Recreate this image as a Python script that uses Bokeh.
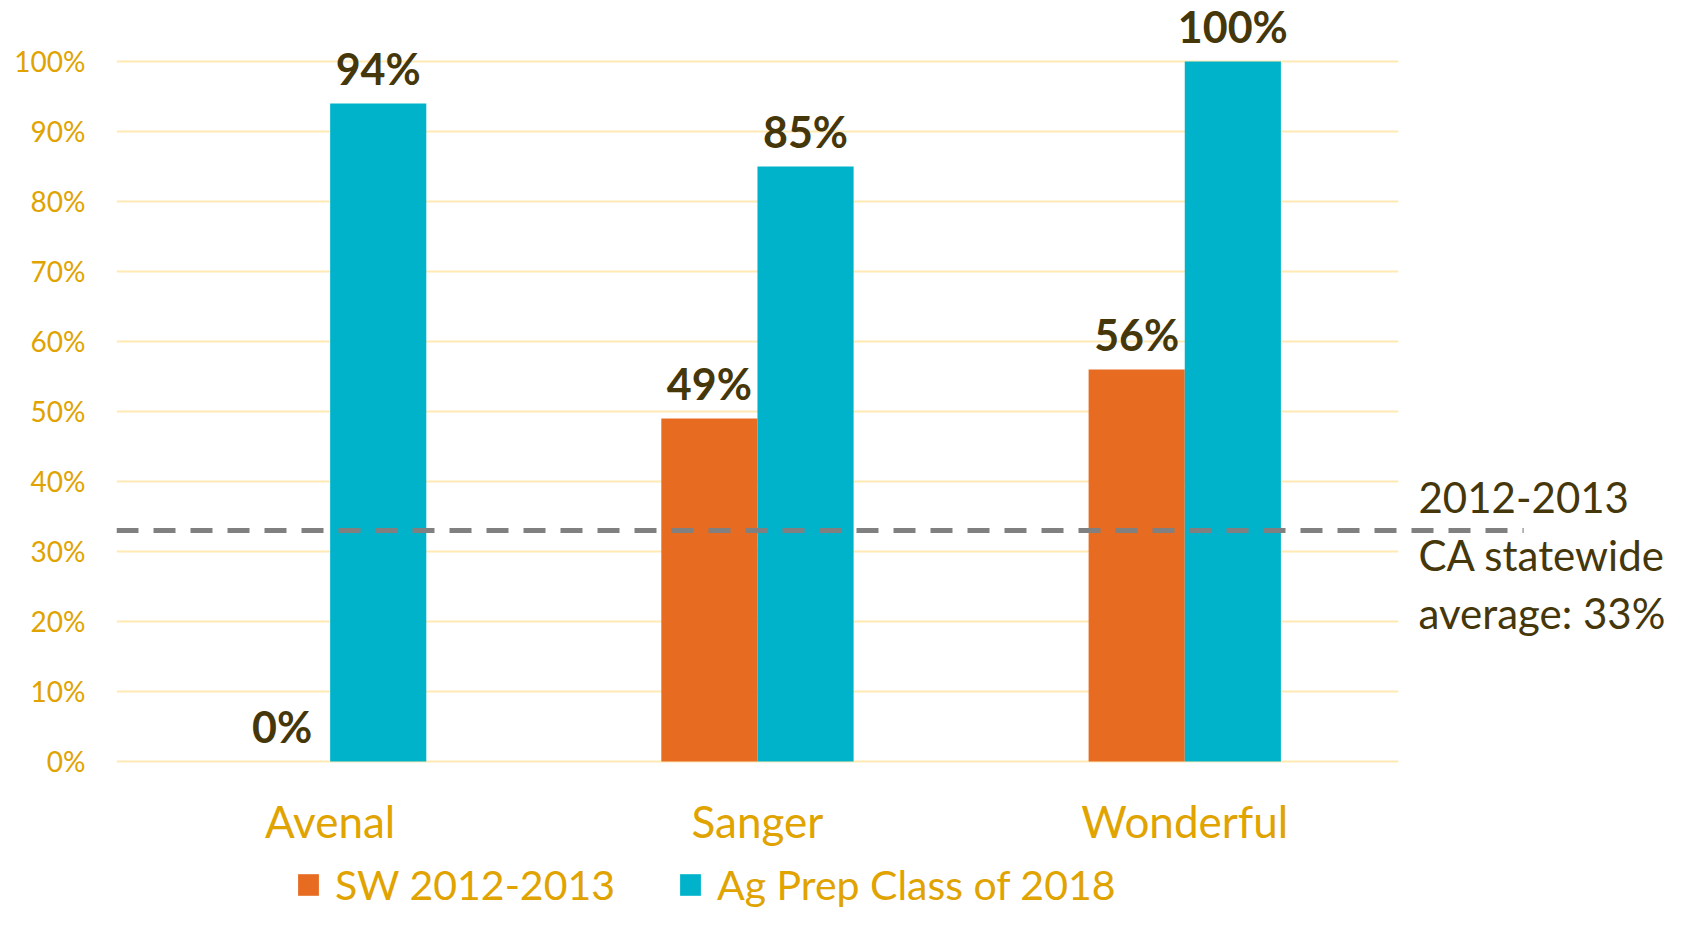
from bokeh.plotting import figure
from bokeh.models import Range1d, FixedTicker, Legend, LegendItem, ColumnDataSource
from bokeh.core.properties import value
from bokeh.embed import file_html
from bokeh.resources import INLINE

categories = ["Avenal", "Sanger", "Wonderful"]
sw_2012_2013 = [0.00, 0.49, 0.56]
ag_prep_2018 = [0.94, 0.85, 1.00]
series_names = ["SW 2012-2013", "Ag Prep Class of 2018"]
statewide_avg = 0.33
statewide_lines = ["2012-2013", "CA statewide", "average: 33%"]
y_ticks = [0.0, 0.1, 0.2, 0.3, 0.4, 0.5, 0.6, 0.7, 0.8, 0.9, 1.0]

FONT = "Lato"
GOLD = "#E0A300"
BROWN = "#45370A"
ORANGE = "#E76B20"
BLUE = "#00B3CB"
GRID = "#FFEAB3"

p = figure(width=1666, height=911, output_backend="svg", toolbar_location=None,
           x_range=Range1d(0, 3.6274), y_range=Range1d(-0.2143, 1.0871),
           min_border_left=116, min_border_right=0, min_border_top=0, min_border_bottom=0)
p.outline_line_color = None
p.xgrid.visible = False
p.ygrid.visible = False

n = len(categories)
centers = [i + 0.5 for i in range(n)]
bw = 0.225
x_orange = [c - bw / 2 for c in centers]
x_blue = [c + bw / 2 for c in centers]

# gridlines
p.segment(x0=[0] * len(y_ticks), y0=y_ticks, x1=[n] * len(y_ticks), y1=y_ticks,
          line_color=GRID, line_width=2)

src_o = ColumnDataSource(dict(x=x_orange, top=sw_2012_2013,
                              lab=[f"{round(v*100)}%" for v in sw_2012_2013]))
src_b = ColumnDataSource(dict(x=x_blue, top=ag_prep_2018,
                              lab=[f"{round(v*100)}%" for v in ag_prep_2018]))
r_o = p.vbar(x="x", top="top", bottom=0, width=bw, source=src_o, fill_color=ORANGE, line_color=None)
r_b = p.vbar(x="x", top="top", bottom=0, width=bw, source=src_b, fill_color=BLUE, line_color=None)

for src in (src_o, src_b):
    p.text(x="x", y="top", text="lab", source=src, text_align="center", text_baseline="alphabetic",
           y_offset=-35, text_font=value(FONT), text_font_style="bold",
           text_font_size="43px", text_color=BROWN)

# statewide average dashed line
p.segment(x0=[0], y0=[statewide_avg], x1=[3.293], y1=[statewide_avg],
          line_color="#808080", line_width=5, line_dash="22 15")
p.text(x=[3.047] * 3, y=[statewide_avg] * 3, text=statewide_lines, y_offset=[-33, 25, 83],
       text_align="left", text_baseline="middle", text_font=value(FONT),
       text_font_size="42px", text_color=BROWN)

# y axis
ya = p.yaxis[0]
ya.ticker = FixedTicker(ticks=y_ticks)
ya.major_label_overrides = {t: f"{round(t*100)}%" for t in y_ticks}
ya.axis_line_color = None
ya.major_tick_line_color = None
ya.minor_tick_line_color = None
ya.major_label_standoff = 25
ya.major_label_text_font = FONT
ya.major_label_text_font_size = "28px"
ya.major_label_text_color = GOLD

# x axis at y=0
xa = p.xaxis[0]
xa.fixed_location = 0
xa.ticker = FixedTicker(ticks=centers)
xa.major_label_overrides = {c: name for c, name in zip(centers, categories)}
xa.axis_line_color = None
xa.major_tick_line_color = None
xa.minor_tick_line_color = None
xa.major_label_standoff = 28
xa.major_label_text_font = FONT
xa.major_label_text_font_size = "44px"
xa.major_label_text_color = GOLD

legend = Legend(items=[LegendItem(label=series_names[0], renderers=[r_o]),
                       LegendItem(label=series_names[1], renderers=[r_b])],
                orientation="horizontal", location=(179, 2),
                glyph_width=26, glyph_height=27, label_standoff=14, spacing=62,
                padding=0, margin=0, border_line_alpha=0, background_fill_alpha=0,
                label_text_font=FONT, label_text_font_size="41px", label_text_color=GOLD)
p.add_layout(legend)

open("out.html", "w").write(file_html(p, INLINE))
